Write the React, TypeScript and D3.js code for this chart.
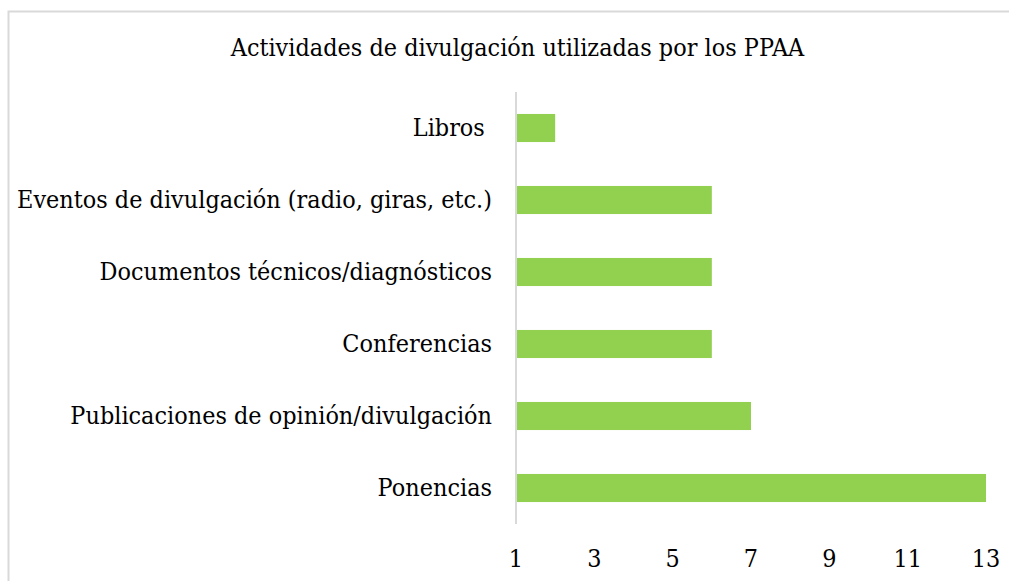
import React from "react";
import * as d3 from "d3";

const categories = [
  "Libros ",
  "Eventos de divulgación (radio, giras, etc.)",
  "Documentos técnicos/diagnósticos",
  "Conferencias",
  "Publicaciones de opinión/divulgación",
  "Ponencias",
];
const values = [2, 6, 6, 6, 7, 13];
const ticks = [1, 3, 5, 7, 9, 11, 13];
const title = "Actividades de divulgación utilizadas por los PPAA";

export default function App() {
  const W = 1009, H = 581;
  const x = d3.scaleLinear().domain([1, 13]).range([516, 986]);
  const y = d3.scaleBand().domain(categories).range([92, 524]).paddingInner(0.61).paddingOuter(0.305);
  const font = "'DejaVu Serif', serif";
  const sx = 0.934;
  const fs = 24;
  return (
    <svg width={W} height={H} style={{ position: "absolute", left: 0, top: 0, fontFamily: font }}>
      <rect x={0} y={0} width={W} height={H} fill="#fff" />
      <rect x={8.5} y={11.5} width={W + 20} height={H + 20} fill="none" stroke="#d9d9d9" strokeWidth={2} />
      <g transform={`translate(517.5,56) scale(${sx},1)`}>
        <text x={0} y={0} textAnchor="middle" fontSize={fs} fill="#000">{title}</text>
      </g>
      {categories.map((c, i) => (
        <g key={c}>
          <rect x={x(1)} y={y(c)!} width={x(values[i]) - x(1)} height={y.bandwidth()} fill="#92d050" />
          <g transform={`translate(492,${y(c)! + y.bandwidth() / 2}) scale(${sx},1)`}>
            <text x={0} y={0} dy="0.35em" textAnchor="end" style={{ whiteSpace: "pre" }} fontSize={fs} fill="#000">{c}</text>
          </g>
        </g>
      ))}
      <line x1={516} x2={516} y1={92} y2={524} stroke="#d9d9d9" strokeWidth={2} />
      {ticks.map((t) => (
        <g key={t} transform={`translate(${x(t)},567) scale(${sx},1)`}>
          <text x={0} y={0} textAnchor="middle" fontSize={fs} fill="#000">{t}</text>
        </g>
      ))}
    </svg>
  );
}
